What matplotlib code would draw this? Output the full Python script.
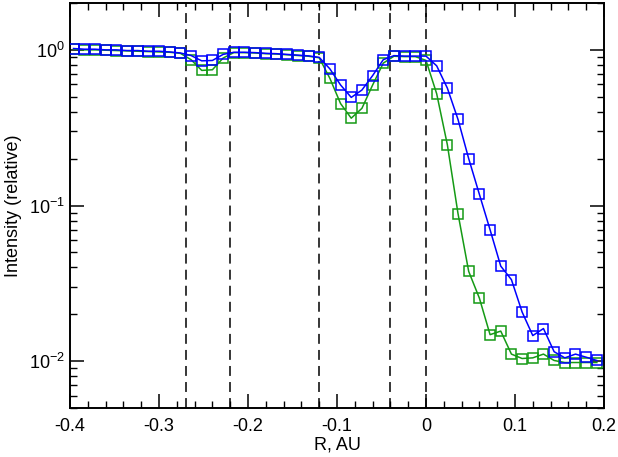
import numpy as np
import matplotlib
matplotlib.use("Agg")
import matplotlib.pyplot as plt
from matplotlib.ticker import MultipleLocator, LogLocator, NullFormatter

plt.rcParams['font.family'] = ['Liberation Sans', 'DejaVu Sans']
plt.rcParams['mathtext.default'] = 'regular'

# =========================
# DATA
# =========================
r = np.round(-0.396 + 0.012 * np.arange(50), 3)

blue = [1.02, 1.01, 1.01, 1.00, 1.00, 0.99, 0.99, 0.98, 0.98, 0.97, 0.955,
        0.92, 0.85, 0.855, 0.935, 0.965, 0.965, 0.96, 0.95, 0.945, 0.935, 0.925, 0.915, 0.895,
        0.755, 0.595, 0.495, 0.552, 0.683, 0.865, 0.918, 0.912, 0.912, 0.912,
        0.79, 0.568, 0.357, 0.200, 0.118, 0.0699, 0.0408, 0.0334, 0.0207, 0.0146,
        0.0162, 0.0115, 0.0105, 0.0111, 0.0106, 0.0101]

green = [1.01, 1.00, 1.00, 0.995, 0.99, 0.985, 0.98, 0.975, 0.97, 0.965, 0.95,
         0.865, 0.738, 0.745, 0.886, 0.96, 0.96, 0.955, 0.945, 0.94, 0.93, 0.92, 0.91, 0.89,
         0.656, 0.452, 0.364, 0.421, 0.594, 0.822, 0.91, 0.905, 0.905, 0.856,
         0.523, 0.246, 0.0886, 0.0377, 0.0254, 0.0148, 0.0156, 0.0111, 0.0104, 0.0105,
         0.0111, 0.0101, 0.0098, 0.0098, 0.0098, 0.0098]

boundaries = [-0.27, -0.22, -0.12, -0.04, 0.0]

# =========================
# PLOT
# =========================
fig = plt.figure(figsize=(6.18, 4.57), dpi=100)
ax = fig.add_axes([0.1133, 0.1072, 0.864, 0.8862])

for xb in boundaries:
    ax.axvline(xb, color='black', lw=1.1, ls=(0, (6.5, 4)), zorder=1)

ax.plot(r, green, color='#159a15', lw=1.1, marker='s', ms=7.5, mfc='none',
        mec='#159a15', mew=1.1, zorder=2)
ax.plot(r, blue, color='#0000ff', lw=1.1, marker='s', ms=7.5, mfc='none',
        mec='#0000ff', mew=1.1, zorder=3)

ax.set_yscale('log')
ax.set_xlim(-0.4, 0.2)
ax.set_ylim(0.005, 2.0)

ax.xaxis.set_minor_locator(MultipleLocator(0.02))
ax.set_xticks([-0.4, -0.3, -0.2, -0.1, 0, 0.1, 0.2])
ax.set_xticklabels(['-0.4', '-0.3', '-0.2', '-0.1', '0', '0.1', '0.2'])
ax.yaxis.set_major_locator(LogLocator(base=10, numticks=10))
ax.yaxis.set_minor_locator(LogLocator(base=10, subs=np.arange(2, 10), numticks=10))
ax.yaxis.set_minor_formatter(NullFormatter())

ax.tick_params(which='both', direction='in', top=True, right=True, labelsize=13)
ax.tick_params(which='major', length=10, width=1.1)
ax.tick_params(which='minor', length=5, width=1.0)
ax.tick_params(axis='x', pad=7)
for s in ax.spines.values():
    s.set_linewidth(1.4)

ax.set_xlabel("R, AU", fontsize=13, labelpad=1)
ax.set_ylabel("Intensity (relative)", fontsize=13, labelpad=5)

plt.savefig("out.png", dpi=100)
plt.close()
